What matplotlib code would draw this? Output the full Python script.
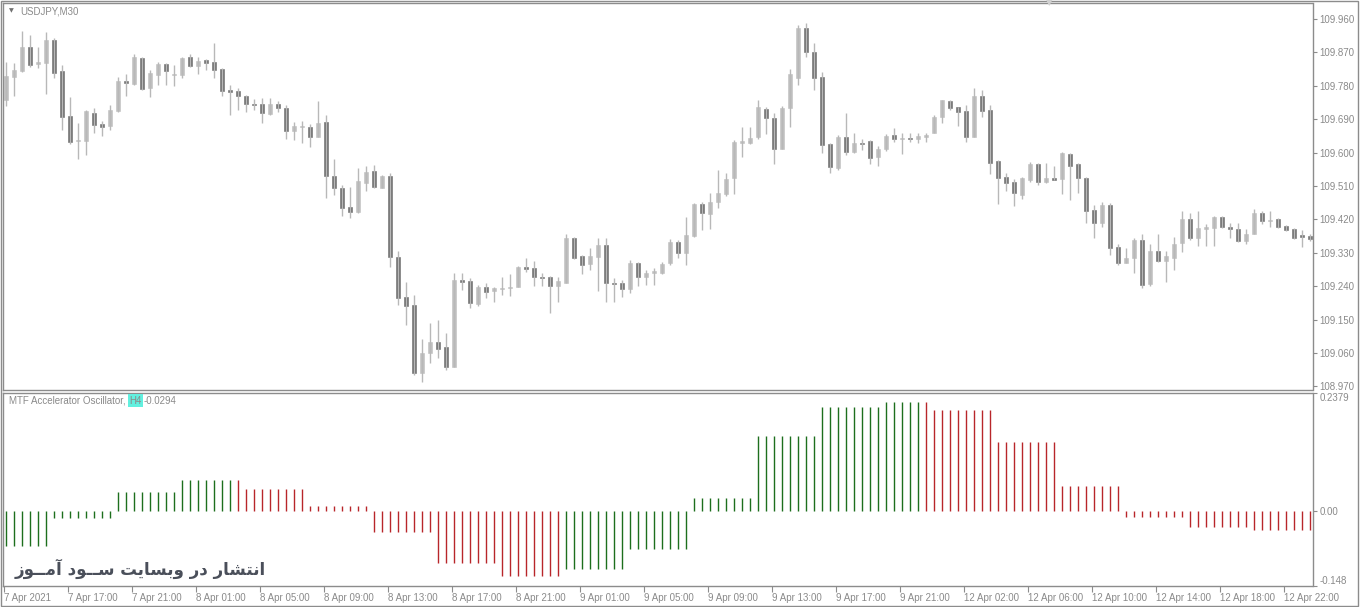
import numpy as np
import matplotlib
matplotlib.use("Agg")
import matplotlib.pyplot as plt
from matplotlib.patches import Rectangle

plt.rcParams['font.family'] = ['Liberation Sans', 'DejaVu Sans']

# USDJPY M30 candles (bar 0 = 7 Apr 13:00)
opens = [
    109.742, 109.804, 109.820, 109.885, 109.838, 109.842, 109.903, 109.820, 109.699, 109.632,
    109.632, 109.706, 109.677, 109.672, 109.713, 109.793, 109.785, 109.854, 109.773, 109.809,
    109.839, 109.809, 109.809, 109.857, 109.834, 109.849, 109.844, 109.825, 109.769, 109.767,
    109.752, 109.730, 109.731, 109.704, 109.731, 109.721, 109.659, 109.670, 109.670, 109.643,
    109.683, 109.537, 109.505, 109.454, 109.440, 109.519, 109.550, 109.505, 109.537, 109.318,
    109.210, 109.189, 109.007, 109.059, 109.090, 109.075, 109.023, 109.257, 109.254, 109.192,
    109.237, 109.228, 109.232, 109.234, 109.239, 109.293, 109.290, 109.266, 109.266, 109.241,
    109.250, 109.371, 109.321, 109.300, 109.320, 109.351, 109.250, 109.248, 109.232, 109.302,
    109.266, 109.275, 109.276, 109.302, 109.358, 109.329, 109.376, 109.461, 109.434, 109.466,
    109.488, 109.531, 109.625, 109.627, 109.641, 109.717, 109.694, 109.611, 109.719, 109.802,
    109.937, 109.872, 109.804, 109.623, 109.559, 109.643, 109.602, 109.627, 109.631, 109.589,
    109.610, 109.647, 109.636, 109.640, 109.638, 109.643, 109.654, 109.695, 109.739, 109.722,
    109.712, 109.643, 109.752, 109.715, 109.577, 109.533, 109.520, 109.487, 109.526, 109.569,
    109.522, 109.531, 109.528, 109.596, 109.569, 109.531, 109.445, 109.409, 109.459, 109.346,
    109.303, 109.317, 109.364, 109.246, 109.335, 109.309, 109.317, 109.357, 109.421, 109.371,
    109.395, 109.398, 109.426, 109.400, 109.394, 109.363, 109.382, 109.436, 109.417, 109.421,
    109.402, 109.393, 109.378, 109.375]
highs = [
    109.845, 109.842, 109.928, 109.918, 109.885, 109.924, 109.910, 109.836, 109.751, 109.679,
    109.715, 109.719, 109.686, 109.728, 109.804, 109.813, 109.867, 109.857, 109.822, 109.845,
    109.842, 109.836, 109.858, 109.867, 109.857, 109.851, 109.896, 109.827, 109.782, 109.773,
    109.755, 109.744, 109.746, 109.746, 109.739, 109.728, 109.683, 109.686, 109.677, 109.740,
    109.701, 109.584, 109.513, 109.508, 109.558, 109.564, 109.567, 109.540, 109.544, 109.336,
    109.252, 109.216, 109.097, 109.142, 109.149, 109.113, 109.275, 109.276, 109.261, 109.243,
    109.248, 109.239, 109.264, 109.273, 109.294, 109.315, 109.309, 109.276, 109.267, 109.266,
    109.382, 109.373, 109.324, 109.342, 109.369, 109.369, 109.261, 109.257, 109.311, 109.306,
    109.285, 109.288, 109.306, 109.366, 109.364, 109.426, 109.463, 109.468, 109.492, 109.553,
    109.544, 109.634, 109.670, 109.670, 109.743, 109.724, 109.706, 109.725, 109.824, 109.944,
    109.950, 109.894, 109.818, 109.627, 109.647, 109.706, 109.652, 109.636, 109.634, 109.618,
    109.649, 109.667, 109.652, 109.652, 109.652, 109.652, 109.701, 109.743, 109.743, 109.724,
    109.728, 109.773, 109.770, 109.728, 109.580, 109.544, 109.529, 109.535, 109.576, 109.571,
    109.571, 109.564, 109.602, 109.598, 109.571, 109.535, 109.459, 109.468, 109.463, 109.355,
    109.342, 109.369, 109.382, 109.355, 109.382, 109.336, 109.372, 109.443, 109.436, 109.443,
    109.408, 109.429, 109.429, 109.409, 109.411, 109.393, 109.447, 109.443, 109.443, 109.423,
    109.405, 109.396, 109.391, 109.382]
lows = [
    109.725, 109.752, 109.818, 109.831, 109.827, 109.757, 109.800, 109.661, 109.623, 109.584,
    109.593, 109.654, 109.645, 109.661, 109.710, 109.752, 109.782, 109.769, 109.751, 109.782,
    109.782, 109.779, 109.800, 109.831, 109.812, 109.822, 109.800, 109.752, 109.701, 109.715,
    109.710, 109.715, 109.681, 109.701, 109.710, 109.638, 109.634, 109.627, 109.616, 109.641,
    109.477, 109.487, 109.429, 109.423, 109.436, 109.497, 109.504, 109.504, 109.293, 109.189,
    109.135, 109.001, 108.983, 109.032, 109.046, 109.014, 109.021, 109.230, 109.180, 109.187,
    109.209, 109.198, 109.216, 109.214, 109.237, 109.279, 109.241, 109.241, 109.167, 109.198,
    109.248, 109.312, 109.272, 109.285, 109.227, 109.198, 109.198, 109.210, 109.223, 109.241,
    109.243, 109.243, 109.273, 109.297, 109.315, 109.297, 109.372, 109.391, 109.393, 109.452,
    109.483, 109.488, 109.589, 109.623, 109.638, 109.649, 109.569, 109.609, 109.670, 109.782,
    109.858, 109.769, 109.600, 109.544, 109.553, 109.593, 109.600, 109.607, 109.569, 109.565,
    109.605, 109.629, 109.595, 109.629, 109.627, 109.629, 109.652, 109.681, 109.715, 109.672,
    109.629, 109.641, 109.695, 109.542, 109.461, 109.497, 109.456, 109.475, 109.522, 109.513,
    109.519, 109.526, 109.488, 109.472, 109.490, 109.409, 109.369, 109.400, 109.324, 109.297,
    109.302, 109.276, 109.234, 109.241, 109.306, 109.252, 109.285, 109.333, 109.364, 109.348,
    109.348, 109.348, 109.398, 109.369, 109.360, 109.355, 109.381, 109.408, 109.400, 109.396,
    109.389, 109.366, 109.345, 109.363]
closes = [
    109.806, 109.822, 109.885, 109.836, 109.844, 109.903, 109.815, 109.697, 109.629, 109.634,
    109.712, 109.674, 109.670, 109.715, 109.793, 109.788, 109.858, 109.771, 109.815, 109.840,
    109.820, 109.811, 109.856, 109.834, 109.847, 109.842, 109.822, 109.767, 109.764, 109.752,
    109.731, 109.728, 109.708, 109.731, 109.721, 109.658, 109.672, 109.672, 109.643, 109.681,
    109.538, 109.505, 109.452, 109.440, 109.523, 109.549, 109.508, 109.537, 109.320, 109.209,
    109.188, 109.007, 109.059, 109.090, 109.072, 109.023, 109.257, 109.251, 109.196, 109.239,
    109.225, 109.234, 109.236, 109.239, 109.291, 109.287, 109.264, 109.262, 109.241, 109.254,
    109.371, 109.317, 109.297, 109.321, 109.351, 109.250, 109.246, 109.232, 109.303, 109.266,
    109.276, 109.282, 109.300, 109.360, 109.329, 109.378, 109.461, 109.436, 109.468, 109.492,
    109.529, 109.629, 109.631, 109.640, 109.724, 109.692, 109.611, 109.721, 109.812, 109.937,
    109.872, 109.802, 109.620, 109.562, 109.643, 109.602, 109.627, 109.624, 109.586, 109.610,
    109.646, 109.637, 109.640, 109.637, 109.645, 109.647, 109.697, 109.742, 109.721, 109.710,
    109.643, 109.752, 109.713, 109.573, 109.532, 109.517, 109.490, 109.531, 109.569, 109.522,
    109.531, 109.526, 109.600, 109.565, 109.532, 109.443, 109.411, 109.459, 109.342, 109.303,
    109.315, 109.364, 109.243, 109.336, 109.309, 109.321, 109.355, 109.421, 109.371, 109.396,
    109.399, 109.426, 109.400, 109.395, 109.363, 109.382, 109.436, 109.417, 109.419, 109.400,
    109.391, 109.371, 109.372, 109.368]

# MTF accelerator oscillator: one value per H4 block, number of M30 bars in it
ac_values = [-0.0686, -0.0136, 0.0397, 0.0632, 0.0446, 0.0116, -0.0405, -0.1028, -0.1288,
             -0.1154, -0.0753, 0.0277, 0.1515, 0.2083, 0.2184, 0.2023, 0.1381, 0.0512,
             -0.0116, -0.0305, -0.0371]
ac_sizes = [6, 8, 8, 8, 8, 8, 8, 8, 8, 8, 8, 8, 8, 8, 6, 8, 8, 8, 8, 8, 8]
# bar colours, g = up, r = down
ac_colors = ("gggggg" "gggggggg" "gggggggg" "gggggggr"
             "rrrrrrrr" "rrrrrrrr" "rrrrrrrr" "rrrrrrrr" "rrrrrrrr"
             "gggggggg" "gggggggg" "gggggggg" "gggggggg" "gggggggg"
             "gggggr"
             "rrrrrrrr" "rrrrrrrr" "rrrrrrrr" "rrrrrrrr" "rrrrrrrr" "rrrrrrrr")

time_labels = ['7 Apr 2021', '7 Apr 17:00', '7 Apr 21:00', '8 Apr 01:00', '8 Apr 05:00',
               '8 Apr 09:00', '8 Apr 13:00', '8 Apr 17:00', '8 Apr 21:00', '9 Apr 01:00',
               '9 Apr 05:00', '9 Apr 09:00', '9 Apr 13:00', '9 Apr 17:00', '9 Apr 21:00',
               '12 Apr 02:00', '12 Apr 06:00', '12 Apr 10:00', '12 Apr 14:00', '12 Apr 18:00',
               '12 Apr 22:00']
price_ticks = [109.960, 109.870, 109.780, 109.690, 109.600, 109.510, 109.420, 109.330,
               109.240, 109.150, 109.060, 108.970]
ac_ticks = [0.2379, 0.0, -0.148]
ac_tick_labels = ['0.2379', '0.00', '-0.148']

watermark = 'انتشار در وبسایت ســود آمــوز'


def shape_fa(s):
    # matplotlib has no arabic shaping, so pick presentation forms and reverse
    dual = {'ن': 0xFEE5, 'ت': 0xFE95, 'ش': 0xFEB5, 'ب': 0xFE8F, 'س': 0xFEB1,
            'م': 0xFEE1, 'ی': 0xFBFC}
    right = {'ا': 0xFE8D, 'آ': 0xFE81, 'ر': 0xFEAD, 'د': 0xFEA9, 'و': 0xFEED, 'ز': 0xFEAF}
    joins_next = lambda ch: ch in dual or ch == 'ـ'
    joinable = lambda ch: ch in dual or ch in right or ch == 'ـ'
    out = []
    for i, ch in enumerate(s):
        p = i > 0 and joins_next(s[i - 1])
        n = i < len(s) - 1 and joinable(s[i + 1])
        if ch in dual:
            k = 3 if (p and n) else 1 if p else 2 if n else 0
            out.append(chr(dual[ch] + k))
        elif ch in right:
            out.append(chr(right[ch] + (1 if p else 0)))
        else:
            out.append(ch)
    return ''.join(out)[::-1]


W, H = 1360, 607
grey_txt = '#8a8a8a'
frame = '#8c8c8c'
bull_col = '#c0c0c0'
bear_col = '#6e6e6e'
wick_col = '#b8b8b8'

fig = plt.figure(figsize=(W / 100, H / 100), dpi=100)
fig.patch.set_facecolor('white')

def px_box(x0, y0, x1, y1):
    return [x0 / W, 1 - y1 / H, (x1 - x0) / W, (y1 - y0) / H]

ax = fig.add_axes(px_box(3, 3, 1312.5, 389.5))
osc = fig.add_axes(px_box(3, 392.5, 1312.5, 585.5), sharex=ax)

o = np.array(opens)
hi = np.array(highs)
lo = np.array(lows)
c = np.array(closes)
x = np.arange(len(o))
up = c >= o

ax.vlines(x, lo, hi, color=wick_col, lw=1)
ax.bar(x[up], (c - o)[up], bottom=o[up], width=0.62, color=bull_col,
       edgecolor=bull_col, lw=0.4)
ax.bar(x[~up], (o - c)[~up], bottom=c[~up], width=0.62, color=bear_col,
       edgecolor=bear_col, lw=0.4)

ax.set_xlim(-0.375, 163.31)
ax.set_ylim(108.9617, 110.0031)
ax.yaxis.tick_right()
ax.set_yticks(price_ticks)
ax.set_yticklabels(['%.3f' % v for v in price_ticks])
ax.tick_params(axis='y', direction='out', length=3, width=0.8, colors=frame,
               labelsize=7, labelcolor=grey_txt, pad=2)
ax.tick_params(axis='x', bottom=False, labelbottom=False)

# oscillator histogram
ac_bar = np.repeat(ac_values, ac_sizes)
col_map = {'g': '#1d6f1d', 'r': '#b8262a'}
osc.vlines(x, 0, ac_bar, colors=[col_map[k] for k in ac_colors], lw=1.0)
osc.set_ylim(-0.148, 0.2379)
osc.yaxis.tick_right()
osc.set_yticks(ac_ticks)
osc.set_yticklabels(ac_tick_labels)
osc.tick_params(axis='y', direction='out', length=3, width=0.8, colors=frame,
                labelsize=7, labelcolor=grey_txt, pad=2)
ylabs = osc.get_yticklabels()
ylabs[0].set_va('top')
ylabs[-1].set_va('bottom')

tick_pos = np.arange(0, len(o), 8) - 0.3
osc.set_xticks(tick_pos)
osc.set_xticklabels(time_labels, ha='left')
osc.tick_params(axis='x', direction='out', length=4, width=0.8, colors=frame,
                labelsize=7, labelcolor=grey_txt, pad=1.5)

for a in (ax, osc):
    a.set_facecolor('white')
    for sp in a.spines.values():
        sp.set_color(frame)
        sp.set_linewidth(1)

# outer window frame
fig.add_artist(Rectangle((0.5 / W, 1.5 / H), (W - 2.5) / W, (H - 2.5) / H,
                         transform=fig.transFigure, fill=False, ec=frame, lw=1))

# titles
fig.text(9 / W, 1 - 11 / H, '▼', fontsize=4.5, color='#707070', va='center',
         family=['DejaVu Sans'])
fig.text(20 / W, 1 - 11 / H, 'USDJPY,M30', fontsize=7, color=grey_txt, va='center')
fig.text(1049 / W, 1 - 3 / H, '▼', fontsize=6, color='#d0d0d0', va='center', ha='center',
         family=['DejaVu Sans'])

t1 = fig.text(9 / W, 1 - 400.5 / H, 'MTF Accelerator Oscillator,', fontsize=7,
              color=grey_txt, va='center')
t2 = osc.annotate('H4', xy=(1, 0.5), xycoords=t1, xytext=(2.5, 0),
                  textcoords='offset points', va='center', fontsize=7, color=grey_txt,
                  bbox=dict(boxstyle='square,pad=0.12', fc='#62f0df', ec='none'),
                  annotation_clip=False)
osc.annotate('-0.0294', xy=(1, 0.5), xycoords=t2, xytext=(1.5, 0),
             textcoords='offset points', va='center', fontsize=7, color=grey_txt,
             annotation_clip=False)

fig.text(15 / W, 1 - 569 / H, shape_fa(watermark), fontsize=12, fontweight='bold',
         color='#4a4f5a', va='center', ha='left', family=['DejaVu Sans'])

fig.savefig('out.png', dpi=100, facecolor='white')
